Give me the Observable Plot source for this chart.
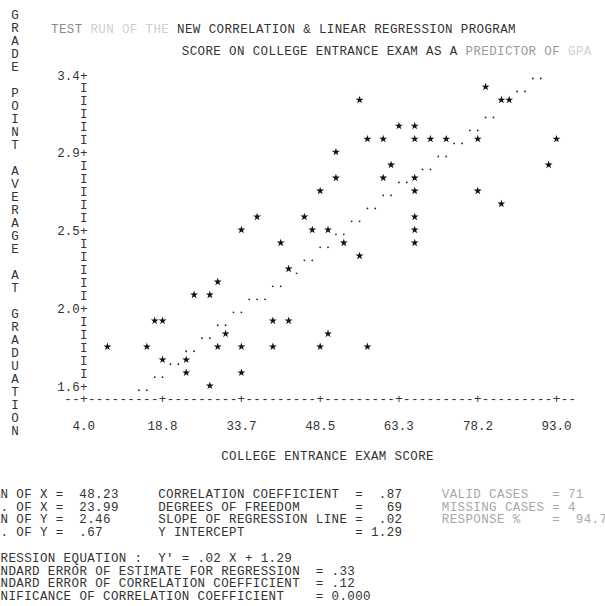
<!DOCTYPE html>
<html><head><meta charset="utf-8">
<script src="https://cdn.jsdelivr.net/npm/d3@7"></script>
<script src="https://cdn.jsdelivr.net/npm/@observablehq/plot@0.6"></script>
<style>
html,body{margin:0;padding:0;background:#fff;}
#chart{width:605px;height:606px;overflow:hidden;position:relative;}
</style></head><body><div id="chart"></div>
<script>
// ---- data: observed points (score, GPA) printed as '*'
const starScore = [79.65, 55.92,82.62,84.10, 63.33,66.30, 57.40,60.37,66.30,69.27,72.23,78.17,93.00,
  51.47, 61.85,91.52, 51.47,60.37,66.30, 48.50,66.30,78.17, 82.62, 36.63,45.53,66.30,
  33.67,47.02,49.98,66.30, 41.08,52.95,66.30, 55.92, 42.57, 29.22, 24.77,27.73,
  17.35,18.83,39.60,42.57, 30.70,49.98, 8.45,15.87,29.22,33.67,39.60,48.50,57.40,
  18.83,23.28, 23.28,33.67, 27.73];
const starGpa = [3.325, 3.25,3.25,3.25, 3.10,3.10, 3.025,3.025,3.025,3.025,3.025,3.025,3.025,
  2.95, 2.875,2.875, 2.80,2.80,2.80, 2.725,2.725,2.725, 2.65, 2.575,2.575,2.575,
  2.50,2.50,2.50,2.50, 2.425,2.425,2.425, 2.35, 2.275, 2.20, 2.125,2.125,
  1.975,1.975,1.975,1.975, 1.90,1.90, 1.825,1.825,1.825,1.825,1.825,1.825,1.825,
  1.75,1.75, 1.675,1.675, 1.60];
// ---- regression line printed as '.'
const lineScore = [88.55,90.03, 85.58,87.07, 79.65,81.13, 76.68,78.17, 73.72,75.20, 70.75,72.23,
  67.78,69.27, 63.33,64.82, 60.37,61.85, 57.40,58.88, 54.43,55.92, 51.47,52.95, 48.50,49.98,
  45.53,47.02, 44.05, 39.60,41.08, 35.15,36.63,38.12, 32.18,33.67, 29.22,30.70, 26.25,27.73,
  23.28,24.77, 20.32,21.80, 17.35,18.83, 14.38,15.87];
const lineGpa = [3.40,3.40, 3.325,3.325, 3.175,3.175, 3.10,3.10, 3.025,3.025, 2.95,2.95,
  2.875,2.875, 2.80,2.80, 2.725,2.725, 2.65,2.65, 2.575,2.575, 2.50,2.50, 2.425,2.425,
  2.35,2.35, 2.275, 2.20,2.20, 2.125,2.125,2.125, 2.05,2.05, 1.975,1.975, 1.90,1.90,
  1.825,1.825, 1.75,1.75, 1.675,1.675, 1.60,1.60];
// ---- axes
const xTicks = [4.0, 18.8, 33.7, 48.5, 63.3, 78.2, 93.0];
const xTickLabels = ["4.0","18.8","33.7","48.5","63.3","78.2","93.0"];
const yTicks = [1.6, 2.05, 2.5, 2.95, 3.4];
const yTickLabels = ["1.6","2.0","2.5","2.9","3.4"];
const yStep = 0.075;           // one printer line
const xStep = 89 / 60;         // one printer column
const yLabel = "GRADE POINT AVERAGE AT GRADUATION";
const xLabel = "COLLEGE ENTRANCE EXAM SCORE";
// ---- titles
const title1 = [["TEST ", "#8a8a8a"], ["RUN OF THE ", "#cfcfcf"], ["NEW CORRELATION & LINEAR REGRESSION PROGRAM", "#333"]];
const title2 = [["SCORE ON COLLEGE ENTRANCE EXAM AS A ", "#333"], ["PREDICTOR OF ", "#9a9a9a"], ["GPA", "#d0d0d0"]];
// ---- statistics
const statLabelsA = ["MEAN OF X","S.D. OF X","MEAN OF Y","S.D. OF Y"];
const statValuesA = ["48.23","23.99","2.46",".67"];
const statLabelsB = ["CORRELATION COEFFICIENT","DEGREES OF FREEDOM","SLOPE OF REGRESSION LINE","Y INTERCEPT"];
const statValuesB = [".87","69",".02","1.29"];
const statLabelsC = ["VALID CASES","MISSING CASES","RESPONSE %"];
const statValuesC = ["71","4","94.7"];
const eqLabels = ["REGRESSION EQUATION :  Y' = .02 X + 1.29","STANDARD ERROR OF ESTIMATE FOR REGRESSION","STANDARD ERROR OF CORRELATION COEFFICIENT","SIGNIFICANCE OF CORRELATION COEFFICIENT"];
const eqValues = [null, ".33", ".12", "0.000"];

const FONT = "'Liberation Mono', 'DejaVu Sans Mono', monospace";
const FS = 12.5;
const INK = "#333";

const stars = starScore.map((s, i) => ({s, g: starGpa[i]}));
const dots = lineScore.map((s, i) => ({s, g: lineGpa[i]}));
const rows = d3.range(25).map(i => +(1.6 + i * yStep).toFixed(3)).filter(v => !yTicks.some(t => Math.abs(t - v) < 1e-6));
const cols = d3.range(-2, 63);

const plot = Plot.plot({
  width: 605, height: 606,
  marginLeft: 83.3, marginRight: 49, marginTop: 75, marginBottom: 219.3,
  x: {domain: [4, 93], axis: null},
  y: {domain: [1.6, 3.4], axis: null},
  style: {fontFamily: FONT, fontSize: FS + "px", color: INK, background: "#fff"},
  marks: [
    Plot.text(rows, {y: d => d, frameAnchor: "left", text: () => "I", textAnchor: "middle", fontSize: FS, fill: INK}),
    Plot.text(yTicks, {y: d => d, frameAnchor: "left", text: () => "+", textAnchor: "middle", fontSize: FS, fill: INK}),
    Plot.text(yTicks, {y: d => d, frameAnchor: "left", text: (d, i) => yTickLabels[i], textAnchor: "end", dx: -4, fontSize: FS, fill: INK}),
    Plot.text(cols, {x: c => 4 + c * xStep, frameAnchor: "bottom", dy: 16, text: c => c % 10 === 0 ? "+" : "-", textAnchor: "middle", fontSize: FS, fill: INK}),
    Plot.text(xTicks, {x: d => d, frameAnchor: "bottom", dy: 42.5, text: (d, i) => xTickLabels[i], textAnchor: "middle", fontSize: FS, fill: INK}),
    Plot.dot(dots, {x: "s", y: "g", r: 0.9, fill: "#222", stroke: "none", dy: 3}),
    Plot.dot(stars, {x: "s", y: "g", symbol: "star", r: 2.5, fill: "#111", stroke: "none", dy: -1.5})
  ]
});
document.getElementById("chart").appendChild(plot);

// ---- printed text around the plot
const svg = d3.select(plot);
const g = svg.append("g").attr("font-family", FONT).attr("font-size", FS).attr("fill", INK)
  .attr("text-anchor", "start");
const CW = 7.88;                       // printer column width
const colX = k => 0.56 + k * CW;       // left edge of column k
function put(x, y, str, fill, anchor) {
  return g.append("text").attr("x", x).attr("y", y).attr("dy", "0.35em")
    .attr("text-anchor", anchor || "start").attr("fill", fill || INK)
    .style("letter-spacing", "0.38px").style("white-space", "pre").text(str);
}
// vertical y label, one letter per printer line
yLabel.split("").forEach((ch, k) => {
  if (ch !== " ") g.append("text").attr("x", 15).attr("y", 14.7 + 12.99 * k).attr("dy", "0.35em")
    .attr("text-anchor", "middle").text(ch);
});
// titles
function putRuns(x, y, runs) {
  const t = g.append("text").attr("x", x).attr("y", y).attr("dy", "0.35em")
    .attr("text-anchor", "start")
    .style("letter-spacing", "0.38px").style("white-space", "pre");
  runs.forEach(([s, c]) => t.append("tspan").attr("fill", c).text(s));
}
putRuns(51, 29, title1);
putRuns(colX(23), 51, title2);
// x label
put(colX(28), 456, xLabel);
// statistics block
const statY = [494, 506.5, 519, 531.5];
statLabelsA.forEach((s, i) => {
  put(colX(-3), statY[i], s);
  put(colX(7), statY[i], "=");
  put(colX(10), statY[i], statValuesA[i]);
});
statLabelsB.forEach((s, i) => {
  put(colX(20), statY[i], s);
  put(colX(45), statY[i], "=");
  put(colX(51 - statValuesB[i].length), statY[i], statValuesB[i]);
});
statLabelsC.forEach((s, i) => {
  put(colX(56), statY[i], s, "#a8a8a8");
  put(colX(70), statY[i], "=", "#a8a8a8");
  put(colX(i === 2 ? 73 : 72), statY[i], statValuesC[i], "#a8a8a8");
});
const eqY = [558, 570.5, 583, 595.5];
eqLabels.forEach((s, i) => {
  put(colX(-3), eqY[i], s);
  if (eqValues[i]) {
    put(colX(40), eqY[i], "=");
    put(colX(42), eqY[i], eqValues[i]);
  }
});
</script>
</body></html>
